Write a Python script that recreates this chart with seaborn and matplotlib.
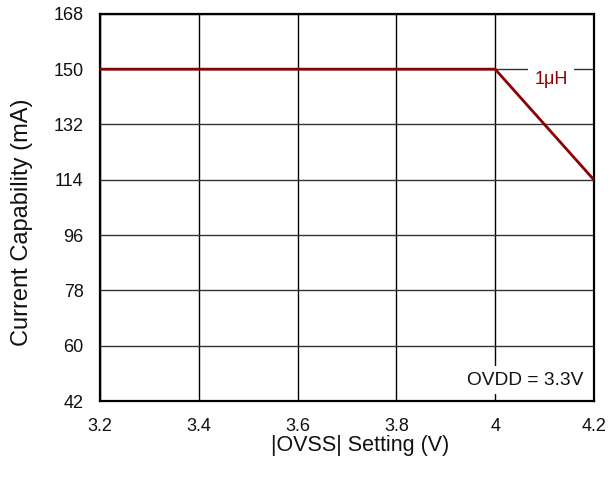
import numpy as np
import pandas as pd

import matplotlib as mpl
mpl.use("Agg")
import matplotlib.pyplot as plt

import seaborn as sns

sns.set_theme(style="white")
plt.rcParams['font.family'] = ['Liberation Sans', 'DejaVu Sans']

ovss = [3.2, 3.4, 3.6, 3.8, 4.0, 4.2]
current = [150, 150, 150, 150, 150, 114]
xticks = [3.2, 3.4, 3.6, 3.8, 4.0, 4.2]
xticklabels = ["3.2", "3.4", "3.6", "3.8", "4", "4.2"]
yticks = [42, 60, 78, 96, 114, 132, 150, 168]

data = pd.DataFrame({"ovss": ovss, "current": current})

fig, ax = plt.subplots(figsize=(6.11, 4.78), dpi=100)
fig.subplots_adjust(left=0.164, right=0.972, top=0.971, bottom=0.161)

sns.lineplot(data=data, x="ovss", y="current", color="#8b0000", linewidth=2, ax=ax, zorder=3)

ax.set_xlim(3.2, 4.2)
ax.set_ylim(42, 168)
ax.set_xticks(xticks)
ax.set_xticklabels(xticklabels)
ax.set_yticks(yticks)
ax.xaxis.grid(True, color="black", linewidth=1)
ax.yaxis.grid(True, color="#333333", linewidth=1)
ax.tick_params(axis="both", labelsize=13, length=0, pad=12, labelcolor="#111111")
for s in ax.spines.values():
    s.set_color("black")
    s.set_linewidth(1.6)

ax.set_xlabel("|OVSS| Setting (V)", fontsize=15.5, color="#111111")
ax.set_ylabel("Current Capability (mA)", fontsize=17, color="#111111")
ax.xaxis.set_label_coords(0.526, -0.115)
ax.xaxis.label.set_va("center")
ax.yaxis.set_label_coords(-0.158, 0.461)
ax.yaxis.label.set_va("center")

ax.text(4.113, 146.8, "1\u03bcH", color="#8b0000", fontsize=13, ha="center", va="center",
        bbox=dict(facecolor="white", edgecolor="none", pad=4.5), zorder=4)
ax.text(4.178, 48.8, "OVDD = 3.3V", color="#111111", fontsize=13.8, ha="right", va="center",
        bbox=dict(facecolor="white", edgecolor="none", pad=4), zorder=4)

# title sits mostly above the top edge, only the descenders show
fig.text(0.823, 1.011, "OVSS Current Capability", fontsize=18, fontweight="bold",
         ha="right", va="baseline")

fig.savefig("out.png", dpi=100)
